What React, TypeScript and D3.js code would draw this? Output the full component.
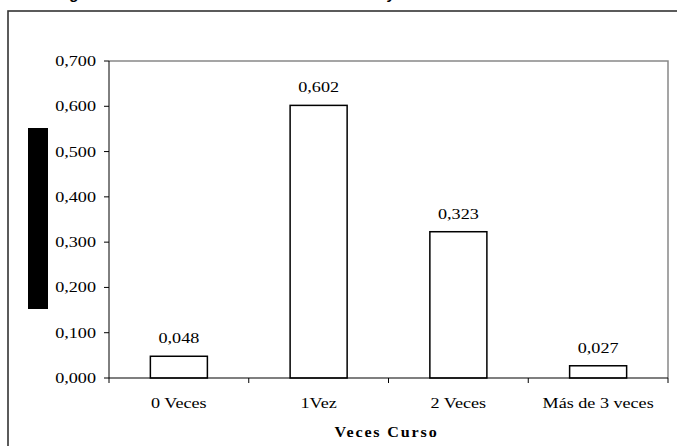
import React, { useRef, useEffect } from 'react';
import * as d3 from 'd3';

// chart data
const categories = ['0 Veces', '1Vez', '2 Veces', 'Más de 3 veces'];
const values = [0.048, 0.602, 0.323, 0.027];
const yTicks = [0, 0.1, 0.2, 0.3, 0.4, 0.5, 0.6, 0.7];
const xTitle = 'Veces Curso';
const chartTitle = 'Diagrama de Barras de la Variable Veces Curso y Frecuencia Relativa';

const W = 677;
const H = 446;
const SX = 1.25; // the original chart is stretched horizontally
const FS = 14.5;

const fmt = (v: number) => d3.format('.3f')(v).replace('.', ',');

const App: React.FC = () => {
  const svgRef = useRef<SVGSVGElement>(null);

  useEffect(() => {
    if (!svgRef.current) return;
    const svg = d3.select(svgRef.current);
    svg.selectAll('*').remove();

    const plot = { left: 109, right: 668, top: 61, bottom: 378 };

    const x = d3.scaleBand<string>()
      .domain(categories)
      .range([plot.left, plot.right])
      .paddingInner(0.592)
      .paddingOuter(0.296);

    const y = d3.scaleLinear()
      .domain([0, 0.7])
      .range([plot.bottom, plot.top]);

    // title, cut off by the top of the picture as in the original
    svg.append('text')
      .attr('x', 47)
      .attr('y', -1)
      .attr('font-family', '"Liberation Sans", Arial, sans-serif')
      .attr('font-weight', 'bold')
      .attr('font-style', 'italic')
      .attr('font-size', 15)
      .text(chartTitle);

    // outer chart frame (runs off the page right and bottom)
    svg.append('rect')
      .attr('x', 8)
      .attr('y', 11)
      .attr('width', 720)
      .attr('height', 500)
      .attr('fill', 'none')
      .attr('stroke', '#333')
      .attr('stroke-width', 1.6);

    // redacted y axis label
    svg.append('rect')
      .attr('x', 28)
      .attr('y', 128)
      .attr('width', 20)
      .attr('height', 181)
      .attr('fill', '#000');

    // plot area border (top / right)
    svg.append('path')
      .attr('d', `M${plot.left},${plot.top}H${plot.right}V${plot.bottom}`)
      .attr('fill', 'none')
      .attr('stroke', '#888')
      .attr('stroke-width', 1.5);

    const serif = '"Liberation Serif", "Times New Roman", serif';

    // y axis
    svg.append('line')
      .attr('x1', plot.left).attr('x2', plot.left)
      .attr('y1', plot.top).attr('y2', plot.bottom)
      .attr('stroke', '#000');

    const yt = svg.selectAll('.ytick')
      .data(yTicks)
      .enter()
      .append('g')
      .attr('class', 'ytick');

    yt.append('line')
      .attr('x1', plot.left - 5).attr('x2', plot.left)
      .attr('y1', d => y(d)).attr('y2', d => y(d))
      .attr('stroke', '#000');

    yt.append('text')
      .attr('transform', d => `translate(${plot.left - 13},${y(d) + 5}) scale(${SX},1)`)
      .attr('text-anchor', 'end')
      .attr('font-family', serif)
      .attr('font-size', FS)
      .text(d => fmt(d));

    // bars
    svg.selectAll('.bar')
      .data(values)
      .enter()
      .append('rect')
      .attr('class', 'bar')
      .attr('x', (d, i) => x(categories[i])!)
      .attr('y', d => y(d))
      .attr('width', x.bandwidth())
      .attr('height', d => plot.bottom - y(d))
      .attr('fill', '#fff')
      .attr('stroke', '#000')
      .attr('stroke-width', 1.5);

    // value labels
    svg.selectAll('.vlabel')
      .data(values)
      .enter()
      .append('text')
      .attr('class', 'vlabel')
      .attr('transform', (d, i) =>
        `translate(${x(categories[i])! + x.bandwidth() / 2},${y(d) - 13}) scale(${SX},1)`)
      .attr('text-anchor', 'middle')
      .attr('font-family', serif)
      .attr('font-size', FS)
      .text(d => fmt(d));

    // x axis
    svg.append('line')
      .attr('x1', plot.left).attr('x2', plot.right)
      .attr('y1', plot.bottom).attr('y2', plot.bottom)
      .attr('stroke', '#000')
      .attr('stroke-width', 1.2);

    const bounds = d3.range(categories.length + 1).map(i => plot.left + x.step() * i);
    svg.selectAll('.xtick')
      .data(bounds)
      .enter()
      .append('line')
      .attr('x1', d => d).attr('x2', d => d)
      .attr('y1', plot.bottom).attr('y2', plot.bottom + 5)
      .attr('stroke', '#000');

    svg.selectAll('.xlabel')
      .data(categories)
      .enter()
      .append('text')
      .attr('transform', d => `translate(${x(d)! + x.bandwidth() / 2},${plot.bottom + 30}) scale(${SX},1)`)
      .attr('text-anchor', 'middle')
      .attr('font-family', serif)
      .attr('font-size', FS)
      .text(d => d);

    svg.append('text')
      .attr('transform', `translate(${(plot.left + plot.right) / 2 - 2},${plot.bottom + 59}) scale(1.15,1)`)
      .attr('text-anchor', 'middle')
      .attr('font-family', serif)
      .attr('font-weight', 'bold')
      .attr('font-size', 14)
      .attr('letter-spacing', 1.6)
      .text(xTitle);
  }, []);

  return (
    <svg
      ref={svgRef}
      width={W}
      height={H}
      style={{ position: 'absolute', left: 0, top: 0, background: '#fff' }}
    />
  );
};

export default App;
